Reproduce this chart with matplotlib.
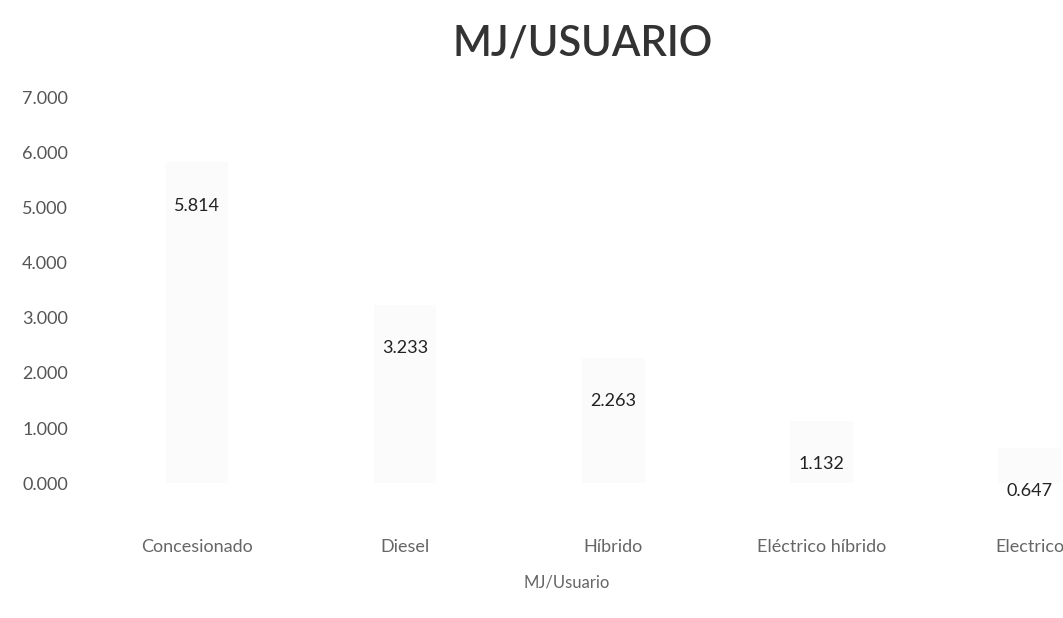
import numpy as np
import matplotlib.pyplot as plt

plt.rcParams['font.family'] = ['Lato', 'DejaVu Sans']

categories = ['Concesionado', 'Diesel', 'Híbrido', 'Eléctrico híbrido', 'Electrico']
mj_usuario = [5.814, 3.233, 2.263, 1.132, 0.647]
y_ticks = [0, 1, 2, 3, 4, 5, 6, 7]


def fmt(v):
    return f'{v:.3f}'


def main():
    fig = plt.figure(figsize=(10.63, 6.18), dpi=100)
    ax = fig.add_axes([0.0875, 0.218, 0.979, 0.625])
    x = np.arange(len(categories))

    # the scanned bars are almost white
    bars = ax.bar(x, mj_usuario, width=0.3, color='#fbfbfb')
    for b, v in zip(bars, mj_usuario):
        ax.annotate(fmt(v), (b.get_x() + b.get_width() / 2, v),
                    xytext=(0, -31), textcoords='offset points',
                    ha='center', va='center', fontsize=13, color='#222222')

    ax.set_xlim(-0.5, len(categories) - 0.5)
    ax.set_ylim(0, 7)
    ax.set_yticks(y_ticks)
    ax.set_yticklabels([fmt(t) for t in y_ticks], fontsize=13, color='#555555')
    ax.set_xticks(x)
    ax.set_xticklabels(categories, fontsize=13, color='#666666')
    ax.tick_params(axis='both', length=0)
    ax.tick_params(axis='y', pad=18)
    ax.tick_params(axis='x', pad=40)
    for s in ax.spines.values():
        s.set_visible(False)

    ax.set_xlabel('MJ/Usuario', fontsize=12, color='#666666')
    ax.xaxis.set_label_coords(0.455, -0.235)
    fig.text(0.548, 0.93, 'MJ/USUARIO', ha='center', va='center',
             fontsize=30, color='#333333', fontweight='semibold')

    fig.savefig('out.png', dpi=100)


if __name__ == '__main__':
    main()
